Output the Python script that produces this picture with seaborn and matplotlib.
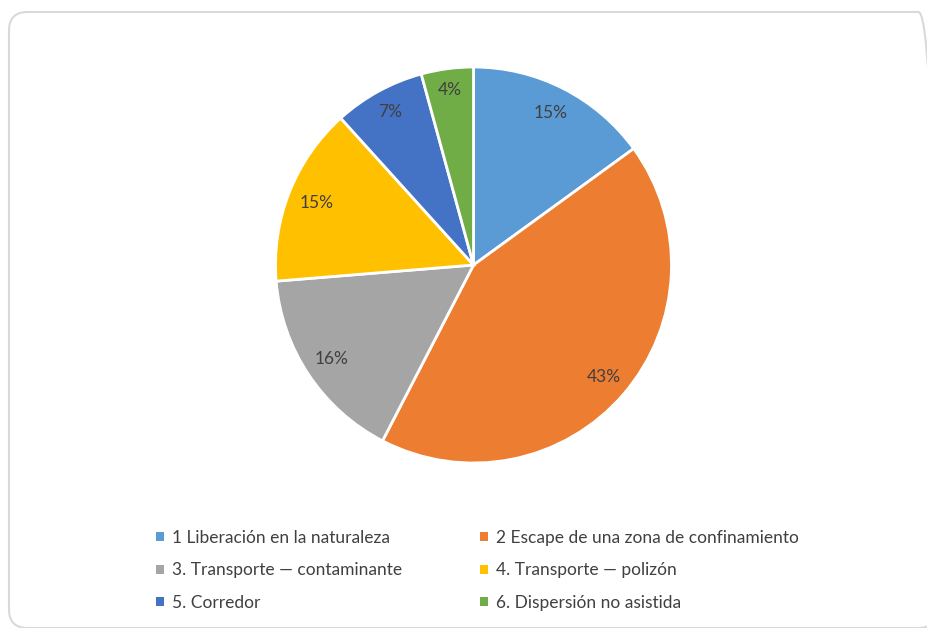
import matplotlib
matplotlib.use("Agg")
import matplotlib.pyplot as plt
import numpy as np
import seaborn as sns
from matplotlib.patches import FancyBboxPatch, Patch

categories = ["1 Liberación en la naturaleza",
              "2 Escape de una zona de confinamiento",
              "3. Transporte — contaminante",
              "4. Transporte — polizón",
              "5. Corredor",
              "6. Dispersión no asistida"]
values = [15.0, 42.6, 16.1, 14.6, 7.45, 4.25]
colors = ["#5B9BD5", "#ED7D31", "#A5A5A5", "#FFC000", "#4472C4", "#70AD47"]

sns.set_theme(style="white")
plt.rcParams['font.family'] = ['Lato', 'DejaVu Sans']
txt_color = "#404040"

W, H = 927, 628
fig = plt.figure(figsize=(W / 100, H / 100), dpi=100)
fig.patch.set_facecolor("white")

# chart frame
frame = FancyBboxPatch((9 / W, 0 / H), (W + 10 - 9) / W, (H - 12) / H,
                       boxstyle="round,pad=0,rounding_size=0.02",
                       transform=fig.transFigure, facecolor="none",
                       edgecolor="#d9d9d9", linewidth=1.5, zorder=0,
                       mutation_aspect=W / H)
fig.patches.append(frame)

cx, cy, r = 473.5, 265, 198
ax = fig.add_axes([(cx - r) / W, (H - cy - r) / H, 2 * r / W, 2 * r / H])
ax.set_zorder(2)
ax.patch.set_alpha(0)
wedges, texts, autotexts = ax.pie(values, colors=sns.color_palette(colors),
                                  startangle=90, counterclock=False,
                                  autopct=lambda p: f"{p:.0f}%", pctdistance=0.86,
                                  wedgeprops=dict(edgecolor="white", linewidth=2),
                                  textprops=dict(color=txt_color, fontsize=12.5))
# best-fit style label distances (small slices pushed slightly outward)
label_dist = [0.86, 0.865, 0.86, 0.85, 0.88, 0.89]
for w, t, d in zip(wedges, autotexts, label_dist):
    ang = np.deg2rad((w.theta1 + w.theta2) / 2)
    t.set_position((d * np.cos(ang), d * np.sin(ang)))

ax.set_xlim(-1.0, 1.0)
ax.set_ylim(-1.0, 1.0)
ax.set_aspect("equal")
ax.axis("off")

def make_legend(idx, x_px):
    handles = [Patch(facecolor=colors[i], edgecolor="none") for i in idx]
    labels = [categories[i] for i in idx]
    leg = fig.legend(handles, labels, loc="upper left",
                     bbox_to_anchor=(x_px / W, 1 - 530 / H),
                     frameon=False, fontsize=12.5, labelcolor=txt_color,
                     handlelength=0.45, handleheight=0.45, handletextpad=0.45,
                     labelspacing=0.95, borderpad=0, borderaxespad=0)
    return leg

leg1 = make_legend([0, 2, 4], 156)
leg2 = make_legend([1, 3, 5], 480)

fig.savefig("out.png", dpi=100)
